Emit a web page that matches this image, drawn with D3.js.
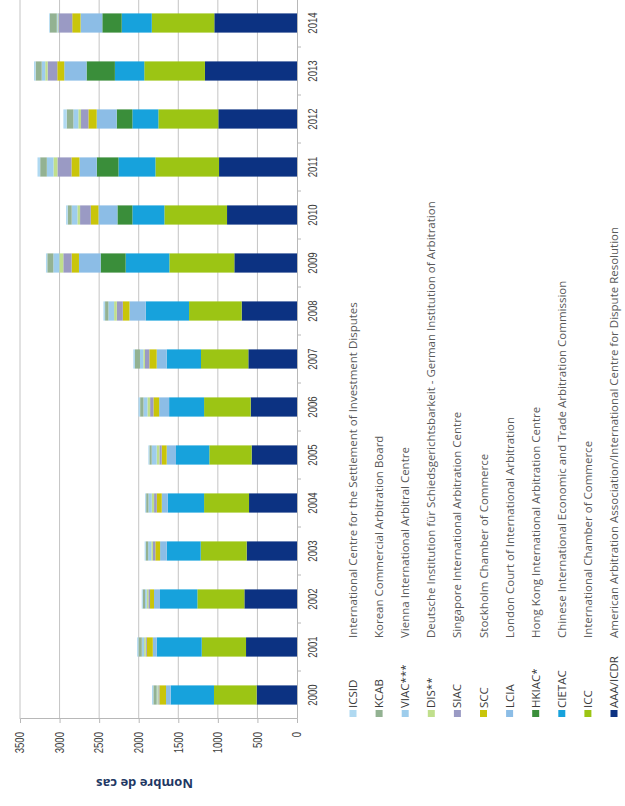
<!DOCTYPE html>
<html>
  <head>
    <meta charset="utf-8">
    <title>Nombre de cas</title>
    <script src="https://d3js.org/d3.v7.min.js"></script>
    <style>
      body { margin: 0; background: #fff; }
      svg { display: block; font-family: "Open Sans", sans-serif; }
      .grid line { stroke: #c4c4c4; stroke-width: 1px; }
      .axis .domain { stroke: #b8b8b8; }
      .axis .tick line { stroke: #b8b8b8; }
      .axis text { font-size: 12px; fill: #404040; }
      .legend text { font-size: 11.5px; fill: #595959; }
      .legend .abbr { fill: #3c3c3c; }
      .title { font-size: 13px; font-weight: bold; fill: #1f3864; }
    </style>
  </head>
  <body>
    <svg width="625" height="806"></svg>
    <script>
      const years = ["2000","2001","2002","2003","2004","2005","2006","2007","2008","2009","2010","2011","2012","2013","2014"];
      const yTicks = [0, 500, 1000, 1500, 2000, 2500, 3000, 3500];

      // series, stacked from the axis outward
      const aaa    = [510, 644, 665, 636, 606, 573, 585, 615, 699, 792, 884, 985, 994, 1163, 1045];
      const icc    = [539, 560, 594, 581, 568, 535, 589, 598, 665, 821, 792, 804, 758, 767, 790];
      const cietac = [547, 568, 472, 429, 459, 421, 442, 434, 547, 552, 404, 467, 328, 371, 380];
      const hkiac  = [0, 0, 0, 0, 0, 0, 0, 0, 0, 316, 189, 274, 198, 358, 245];
      const lcia   = [59, 50, 76, 84, 76, 118, 126, 126, 206, 274, 240, 219, 253, 282, 275];
      const scc    = [84, 76, 50, 60, 63, 63, 72, 93, 84, 93, 97, 101, 105, 88, 105];
      const siac   = [13, 13, 21, 30, 34, 29, 42, 55, 76, 105, 135, 177, 93, 122, 175];
      const dis    = [13, 21, 21, 20, 29, 34, 34, 21, 34, 50, 34, 50, 34, 30, 10];
      const viac   = [8, 29, 21, 40, 42, 63, 50, 42, 72, 76, 72, 84, 63, 45, 10];
      const kcab   = [42, 42, 29, 30, 29, 29, 42, 63, 42, 76, 50, 84, 84, 77, 87];
      const icsid  = [17, 17, 13, 15, 13, 13, 21, 21, 21, 17, 21, 34, 42, 20, 10];

      const keys = ["AAA/ICDR", "ICC", "CIETAC", "HKIAC*", "LCIA", "SCC", "SIAC", "DIS**", "VIAC***", "KCAB", "ICSID"];
      const names = [
        "American Arbitration Association/International Centre for Dispute Resolution",
        "International Chamber of Commerce",
        "Chinese International Economic and Trade Arbitration Commission",
        "Hong Kong International Arbitration Centre",
        "London Court of International Arbitration",
        "Stockholm Chamber of Commerce",
        "Singapore International Arbitration Centre",
        "Deutsche Institution für Schiedsgerichtsbarkeit - German Institution of Arbitration",
        "Vienna International Arbitral Centre",
        "Korean Commercial Arbitration Board",
        "International Centre for the Settlement of Investment Disputes"
      ];
      const colors = ["#0c3282", "#9cc514", "#17a2dc", "#3a8e3a", "#8cbde6", "#c9c50a", "#9a9ac4", "#c0df8c", "#9ecdec", "#93b292", "#b0d9f1"];
      const seriesValues = [aaa, icc, cietac, hkiac, lcia, scc, siac, dis, viac, kcab, icsid];

      const table = years.map((yr, i) => {
        const row = {year: yr};
        keys.forEach((k, j) => row[k] = seriesValues[j][i]);
        return row;
      });

      // the chart is drawn upright, then turned a quarter to the left
      const svg = d3.select("svg");
      const W = +svg.attr("height");
      const squeeze = 0.8;
      const g = svg.append("g")
          .attr("transform", `translate(0, ${W}) rotate(-90)`);

      const plot = {left: 87, right: 807, top: 20, bottom: 297};

      const xScale = d3.scaleBand()
        .domain(years)
        .range([plot.left, plot.right])
        .paddingInner(0.6)
        .paddingOuter(0.3);
      const yScale = d3.scaleLinear()
        .domain([0, 3500])
        .range([plot.bottom, plot.top]);

      g.append("g").attr("class", "grid")
        .selectAll("line").data(yTicks.slice(1))
        .enter().append("line")
          .attr("x1", plot.left).attr("x2", plot.right)
          .attr("y1", d => yScale(d)).attr("y2", d => yScale(d));

      const stack = d3.stack().keys(keys)(table);
      g.append("g").selectAll("g").data(stack)
        .enter().append("g")
          .attr("fill", (d, i) => colors[i])
        .selectAll("rect").data(d => d)
        .enter().append("rect")
          .attr("x", d => xScale(d.data.year))
          .attr("width", xScale.bandwidth())
          .attr("y", d => yScale(d[1]))
          .attr("height", d => yScale(d[0]) - yScale(d[1]));

      // value axis
      const yAxisG = g.append("g")
          .attr("class", "axis")
          .attr("transform", `translate(${plot.left}, 0)`)
          .call(d3.axisLeft(yScale).tickValues(yTicks).tickFormat(d3.format("d")).tickSize(4).tickPadding(9));
      yAxisG.selectAll("text")
          .attr("x", -13 / squeeze)
          .attr("transform", `scale(${squeeze}, 1)`);

      // category axis
      const xAxisG = g.append("g")
          .attr("class", "axis")
          .attr("transform", `translate(0, ${plot.bottom})`)
          .call(d3.axisBottom(xScale).tickSize(0).tickPadding(11));
      xAxisG.selectAll("text")
          .attr("transform", `scale(${squeeze}, 1)`);
      const half = xScale.step() / 2;
      xAxisG.selectAll(".sep").data(years.slice(1))
        .enter().append("line")
          .attr("class", "sep")
          .attr("stroke", "#b8b8b8")
          .attr("x1", d => xScale(d) + xScale.bandwidth() / 2 - half)
          .attr("x2", d => xScale(d) + xScale.bandwidth() / 2 - half)
          .attr("y1", 0).attr("y2", 4);

      g.append("text")
          .attr("class", "title")
          .attr("transform", `translate(22, ${(plot.top + plot.bottom) / 2 - 14}) rotate(-90)`)
          .attr("text-anchor", "middle")
          .attr("dominant-baseline", "central")
          .text("Nombre de cas");

      // legend, last series first
      const legendTop = 353, legendStep = 26.1;
      const legendRows = keys.map((k, i) => ({key: k, name: names[i], color: colors[i]})).reverse();
      const legend = g.append("g").attr("class", "legend")
        .selectAll("g").data(legendRows)
        .enter().append("g")
          .attr("transform", (d, i) => `translate(0, ${legendTop + i * legendStep})`);
      legend.append("rect")
          .attr("x", 89).attr("y", -3.5)
          .attr("width", 7).attr("height", 7)
          .attr("fill", d => d.color);
      legend.append("text")
          .attr("class", "abbr")
          .attr("x", 98)
          .attr("dy", "0.35em")
          .text(d => d.key);
      legend.append("text")
          .attr("x", 168)
          .attr("dy", "0.35em")
          .text(d => d.name);
    </script>
  </body>
</html>
